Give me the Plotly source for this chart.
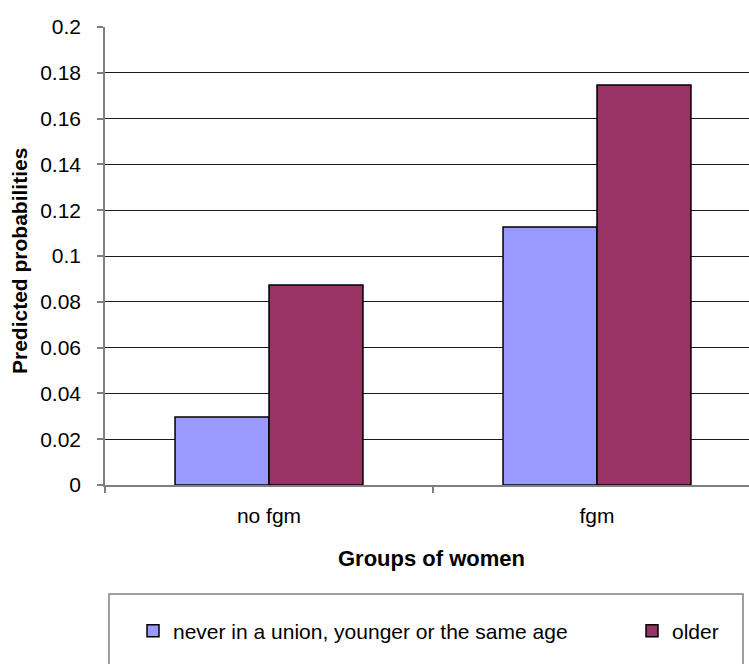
import plotly.graph_objects as go

categories = ["no fgm", "fgm"]
series_names = ["never in a union, younger or the same age", "older"]
young_values = [0.0297, 0.1127]
older_values = [0.0873, 0.1747]
y_tick_vals = [0, 0.02, 0.04, 0.06, 0.08, 0.1, 0.12, 0.14, 0.16, 0.18, 0.2]
y_tick_text = ["0", "0.02", "0.04", "0.06", "0.08", "0.1", "0.12", "0.14", "0.16", "0.18", "0.2"]

FONT = "Arial, 'Liberation Sans', sans-serif"
W, H = 749, 664
L, R, T, B = 105, 0, 27, 179
pw = W - L - R
ph = H - T - B

def px_x(x):
    return (x - L) / pw

def px_y(y):
    return (H - B - y) / ph

fig = go.Figure()
fig.add_trace(go.Bar(
    x=categories, y=young_values, name=series_names[0], legend="legend",
    marker=dict(color="#9999FF", line=dict(color="#000000", width=1.5)),
))
fig.add_trace(go.Bar(
    x=categories, y=older_values, name=series_names[1], legend="legend2",
    marker=dict(color="#993366", line=dict(color="#000000", width=1.5)),
))

leg_common = dict(
    orientation="h", xref="paper", yref="paper", xanchor="left", yanchor="middle",
    bgcolor="rgba(0,0,0,0)", borderwidth=0,
    font=dict(family=FONT, size=21, color="#000000"),
    itemclick=False, itemdoubleclick=False,
)

fig.update_layout(
    width=W, height=H,
    margin=dict(l=L, r=R, t=T, b=B, pad=0),
    paper_bgcolor="white", plot_bgcolor="white",
    barmode="group", bargap=0.427, bargroupgap=0,
    font=dict(family=FONT, size=21, color="#000000"),
    showlegend=True,
    legend=dict(x=px_x(133), y=px_y(631), **leg_common),
    legend2=dict(x=px_x(632), y=px_y(631), **leg_common),
    xaxis=dict(
        type="category", range=[-0.5, (W - L) / 328 - 0.5],
        showline=True, linecolor="#808080", linewidth=1.5,
        ticks="outside", tickson="boundaries", ticklen=6, tickcolor="#808080", tickwidth=1.5,
        showgrid=False, zeroline=False,
        tickfont=dict(family=FONT, size=21, color="#000000"),
        ticklabelstandoff=11,
    ),
    yaxis=dict(
        range=[0, 0.2], tickvals=y_tick_vals, ticktext=y_tick_text,
        showline=True, linecolor="#808080", linewidth=1.5,
        ticks="outside", ticklen=6, tickcolor="#808080", tickwidth=1.5,
        showgrid=True, gridcolor="#1a1a1a", gridwidth=1,
        zeroline=False,
        tickfont=dict(family=FONT, size=21, color="#000000"),
        ticklabelstandoff=12,
    ),
    shapes=[dict(
        type="rect", xref="paper", yref="paper",
        x0=px_x(109), x1=px_x(743), y0=px_y(594), y1=px_y(680),
        line=dict(color="#808080", width=1.5), fillcolor="rgba(0,0,0,0)", layer="below",
    )],
    annotations=[
        dict(text="<b>Groups of women</b>", xref="paper", yref="paper",
             x=px_x(431), y=px_y(558), xanchor="center", yanchor="middle",
             showarrow=False, font=dict(family=FONT, size=22, color="#000000")),
        dict(text="<b>Predicted probabilities</b>", xref="paper", yref="paper",
             x=px_x(19.5), y=px_y(261.5), xanchor="center", yanchor="middle",
             textangle=-90, showarrow=False, font=dict(family=FONT, size=21, color="#000000")),
    ],
)

fig.write_html("out.html", config={"displayModeBar": False},
               post_script="document.body.style.margin='0';document.body.style.padding='0';")
